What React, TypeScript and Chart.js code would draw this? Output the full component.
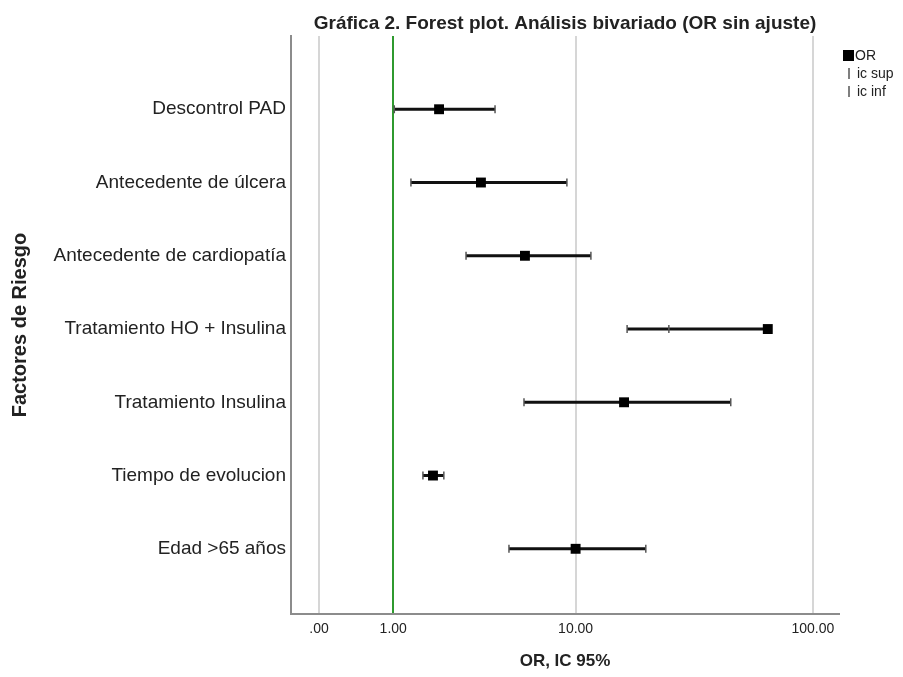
import React, { useEffect, useRef } from "react";
import { Chart, registerables } from "chart.js";

Chart.register(...registerables);

// ---- data ----
const categories = [
  "Descontrol PAD",
  "Antecedente de úlcera",
  "Antecedente de cardiopatía",
  "Tratamiento HO + Insulina",
  "Tratamiento Insulina",
  "Tiempo de evolucion",
  "Edad >65 años",
];
const orValues = [2.07, 3.54, 5.85, 65.3, 16.3, 1.9, 10.0];
const icSup = [4.18, 9.14, 11.69, 25.3, 45.9, 2.21, 20.2];
const icInf = [1.02, 1.36, 2.95, 16.8, 5.79, 1.64, 4.9];
const xTickValues = [0, 1, 10, 100];
const xTickLabels = [".00", "1.00", "10.00", "100.00"];
const referenceValue = 1;
const xMinRaw = -0.3;
const xMaxRaw = 128;
const yMin = 0.11;
const yMax = 8.0;

const FONT = '"Liberation Sans", Arial, sans-serif';
const TEXT = "#222222";

// SPSS "safe log" transform
const safeLog = (v: number) => Math.sign(v) * Math.log10(1 + Math.abs(v));
const rowPos = (i: number) => categories.length - i;

const legendPlugin = {
  id: "spssLegend",
  afterDraw(chart: any) {
    const { ctx, chartArea } = chart;
    const x0 = chartArea.right + 4;
    let y = chartArea.top + 20;
    ctx.save();
    ctx.font = `14px ${FONT}`;
    ctx.textBaseline = "middle";
    ctx.textAlign = "left";
    chart.data.datasets.forEach((ds: any) => {
      if (!ds.label) return;
      if (ds.pointStyle === "rect") {
        ctx.fillStyle = ds.backgroundColor;
        ctx.fillRect(x0, y - 6, 11, 11);
        ctx.fillStyle = TEXT;
        ctx.fillText(ds.label, x0 + 12, y);
      } else {
        ctx.strokeStyle = ds.borderColor;
        ctx.lineWidth = 1.5;
        ctx.beginPath();
        ctx.moveTo(x0 + 6, y - 6);
        ctx.lineTo(x0 + 6, y + 5);
        ctx.stroke();
        ctx.fillStyle = TEXT;
        ctx.fillText(ds.label, x0 + 14, y);
      }
      y += 18;
    });
    ctx.restore();
  },
};

export default function App() {
  const ref = useRef<HTMLCanvasElement | null>(null);

  useEffect(() => {
    if (!ref.current) return;

    const whiskers: any[] = [];
    categories.forEach((_, i) => {
      const lo = Math.min(icInf[i], orValues[i]);
      const hi = Math.max(icSup[i], orValues[i]);
      whiskers.push({ x: safeLog(lo), y: rowPos(i) });
      whiskers.push({ x: safeLog(hi), y: rowPos(i) });
      whiskers.push({ x: safeLog(hi), y: null });
    });

    const chart = new Chart(ref.current, {
      type: "scatter",
      data: {
        datasets: [
          {
            label: "OR",
            data: orValues.map((v, i) => ({ x: safeLog(v), y: rowPos(i) })),
            pointStyle: "rect",
            pointRadius: 7,
            backgroundColor: "#000000",
            borderColor: "#000000",
            borderWidth: 0,
            order: 0,
          },
          {
            label: "ic sup",
            data: icSup.map((v, i) => ({ x: safeLog(v), y: rowPos(i) })),
            pointStyle: "line",
            rotation: 90,
            pointRadius: 4,
            borderColor: "#555555",
            backgroundColor: "#555555",
            borderWidth: 1.5,
            order: 1,
          },
          {
            label: "ic inf",
            data: icInf.map((v, i) => ({ x: safeLog(v), y: rowPos(i) })),
            pointStyle: "line",
            rotation: 90,
            pointRadius: 4,
            borderColor: "#555555",
            backgroundColor: "#555555",
            borderWidth: 1.5,
            order: 1,
          },
          {
            label: "",
            data: whiskers,
            showLine: true,
            spanGaps: false,
            pointRadius: 0,
            borderColor: "#111111",
            borderWidth: 3,
            order: 2,
          } as any,
        ],
      },
      options: {
        responsive: false,
        animation: false,
        layout: { padding: { top: 0, right: 64, bottom: 0, left: 0 } },
        plugins: {
          legend: { display: false },
          tooltip: { enabled: false },
          title: {
            display: true,
            text: "Gráfica 2. Forest plot. Análisis bivariado (OR sin ajuste)",
            color: TEXT,
            font: { family: FONT, size: 19, weight: "bold" },
            padding: { top: 12.6, bottom: 0.6 },
            fullSize: false,
          },
        },
        scales: {
          x: {
            type: "linear",
            min: safeLog(xMinRaw),
            max: safeLog(xMaxRaw),
            afterBuildTicks: (scale: any) => {
              scale.ticks = xTickValues.map((v) => ({ value: safeLog(v) }));
            },
            afterFit: (scale: any) => {
              scale.height = 63;
            },
            ticks: {
              callback: (_v: any, idx: number) => xTickLabels[idx],
              color: TEXT,
              font: { family: FONT, size: 14 },
              padding: 7,
              maxRotation: 0,
            },
            grid: {
              drawTicks: false,
              color: (c: any) =>
                c.tick && Math.abs(c.tick.value - safeLog(referenceValue)) < 1e-9
                  ? "#2f9a2f"
                  : "#d6d6d6",
              lineWidth: 2,
            },
            border: { display: true, color: "#8c8c8c", width: 2 },
            title: {
              display: true,
              text: "OR, IC 95%",
              color: TEXT,
              font: { family: FONT, size: 17, weight: "bold" },
              padding: { top: 0, bottom: 5 },
            },
          },
          y: {
            type: "linear",
            min: yMin,
            max: yMax,
            afterBuildTicks: (scale: any) => {
              scale.ticks = categories.map((_, i) => ({ value: rowPos(i) }));
            },
            afterFit: (scale: any) => {
              scale.width = 291;
            },
            ticks: {
              callback: (v: any) => categories[categories.length - Number(v)],
              color: TEXT,
              font: { family: FONT, size: 19 },
              padding: 5,
            },
            grid: { display: false, drawTicks: false },
            border: { display: true, color: "#8c8c8c", width: 2 },
            title: {
              display: true,
              text: "Factores de Riesgo",
              color: TEXT,
              font: { family: FONT, size: 20, weight: "bold" },
              padding: { top: 8, bottom: 0 },
            },
          },
        },
      } as any,
      plugins: [legendPlugin],
    });

    return () => chart.destroy();
  }, []);

  return (
    <canvas
      ref={ref}
      width={903}
      height={677}
      style={{ position: "absolute", left: 0, top: 0, width: 903, height: 677, background: "#fff" }}
    />
  );
}
